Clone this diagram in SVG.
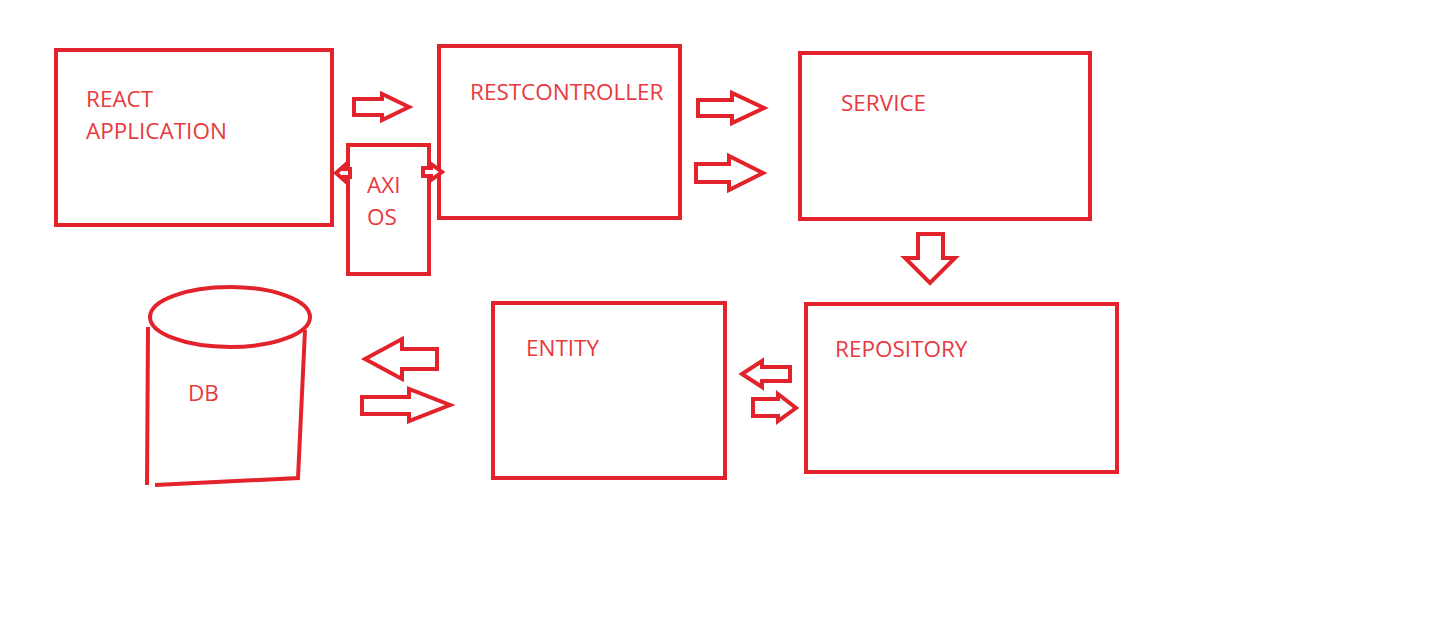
<svg xmlns="http://www.w3.org/2000/svg" width="1443" height="633" viewBox="0 0 1443 633">
<style>
.b{fill:none;stroke:#e3232b;stroke-width:4}
.a{fill:#fff;stroke:#e3232b;stroke-width:4;stroke-linejoin:miter}
.t{font-family:"Open Sans","Liberation Sans",sans-serif;font-size:22.5px;fill:#e8393f}
</style>
<rect width="1443" height="633" fill="#fff"/>
<g id="react"><rect class="b" x="56" y="50" width="276" height="175"/><text class="t" x="86" y="107">REACT</text><text class="t" x="86" y="139">APPLICATION</text></g>
<g id="restcontroller"><rect class="b" x="439" y="46" width="241" height="172"/><text class="t" x="470" y="100">RESTCONTROLLER</text></g>
<g id="axios"><rect class="b" x="348" y="145" width="81" height="129"/><text class="t" x="367" y="193">AXI</text><text class="t" x="367" y="225">OS</text></g>
<g id="service"><rect class="b" x="800" y="53" width="290" height="166"/><text class="t" x="841" y="111">SERVICE</text></g>
<g id="repository"><rect class="b" x="806" y="304" width="311" height="168"/><text class="t" x="835" y="357">REPOSITORY</text></g>
<g id="entity"><rect class="b" x="493" y="303" width="232" height="175"/><text class="t" x="526" y="356">ENTITY</text></g>
<g id="db"><ellipse class="b" cx="230" cy="317" rx="80" ry="30"/><path class="b" d="M148 327 L147 485 M155 485 L298 478 L305 330"/><text class="t" x="188" y="401">DB</text></g>
<g id="connectors">
<path class="a" d="M354 99 H382 V94 L409 107 L382 120 V115 H354 Z"/>
<path class="a" d="M350 169 H344 V166 L336 173 L344 180 V177 H350 Z"/>
<path class="a" d="M423 168 H431 V164 L442 172 L431 180 V176 H423 Z"/>
<path class="a" d="M698 100 H732 V93 L764 108 L732 123 V116 H698 Z"/>
<path class="a" d="M696 164 H729 V156 L763 173 L729 190 V182 H696 Z"/>
<path class="a" d="M918 234 H943 V258 H955 L930 283 L905 258 H918 Z"/>
<path class="a" d="M790 367 H762 V361 L742 374 L762 387 V381 H790 Z"/>
<path class="a" d="M753 399 H778 V394 L796 408 L778 421 V416 H753 Z"/>
<path class="a" d="M437 349 H402 V339 L365 359 L402 379 V369 H437 Z"/>
<path class="a" d="M362 397 H409 V389 L450 405 L409 421 V414 H362 Z"/>
</g>
</svg>
